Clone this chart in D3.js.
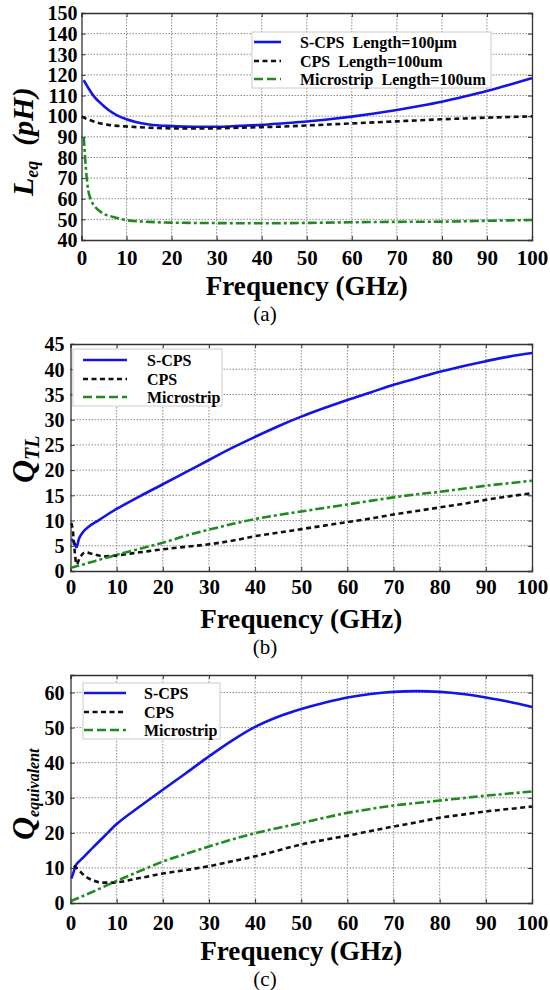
<!DOCTYPE html>
<html><head><meta charset="utf-8">
<script src="https://cdn.jsdelivr.net/npm/d3@7"></script>
<style>
body{margin:0;background:#fff;}
svg{display:block;}
text{font-family:"Liberation Serif","Times New Roman",serif;}
</style></head>
<body><svg id="chart" width="550" height="990"></svg>
<script>
// ---------- DATA ----------
const xTicks = [0,10,20,30,40,50,60,70,80,90,100];
// Panel (a) L_eq (pH)
const aScpsF = [0.5,1,2,3,4,5,6,8,10,12,15,20,25,30,35,40,45,50,55,60,65,70,75,80,85,90,95,100];
const aScpsL = [117.5,115.5,112,109,106.8,104.8,103.0,100.3,98.5,97.2,96.0,95.2,94.9,94.9,95.3,95.8,96.6,97.4,98.5,99.8,101.3,103.0,104.9,107.0,109.5,112.2,115.2,118.4];
const aCpsF = [0.1,1,2,4,6,8,10,15,20,25,30,35,40,45,50,55,60,65,70,75,80,85,90,95,100];
const aCpsL = [99.8,98.8,98.0,96.6,95.8,95.3,95.0,94.4,94.1,94.0,94.1,94.4,94.7,95.0,95.5,96.0,96.5,97.0,97.5,98.0,98.5,98.9,99.3,99.6,99.9];
const aMsF = [0.5,0.7,1,1.5,2,3,4,5,7,10,15,20,30,40,50,60,70,80,90,100];
const aMsL = [90,83,74,64,60,56.2,54,52.6,51.2,49.6,48.8,48.4,48.2,48.1,48.3,48.6,48.8,48.9,49.3,49.7];
const aYTicks = [40,50,60,70,80,90,100,110,120,130,140,150];
const aLegend = ["S-CPS  Length=100\u03bcm","CPS  Length=100um","Microstrip  Length=100um"];
// Panel (b) Q_TL
const bScpsF = [0.2,0.8,1.3,1.8,2.6,4,6,8,10,15,20,25,30,35,40,45,50,55,60,65,70,75,80,85,90,95,100];
const bScpsQ = [6.3,5.6,4.7,6.3,7.6,8.8,10.0,11.2,12.3,14.8,17.2,19.6,22.0,24.4,26.6,28.7,30.6,32.3,33.9,35.4,36.9,38.2,39.5,40.6,41.6,42.5,43.2];
const bCpsF = [0.2,0.5,0.9,1.3,2,3.2,5,7.4,10,15,20,25,30,35,40,45,50,55,60,65,70,75,80,85,90,95,100];
const bCpsQ = [9.5,8,4,1.3,2.6,3.7,3.3,2.9,3.1,3.7,4.3,4.8,5.3,6.0,6.9,7.6,8.3,9.0,9.7,10.4,11.2,11.9,12.6,13.3,14.1,14.8,15.4];
const bMsF = [0,5,8,10,15,20,25,30,35,40,45,50,55,60,65,70,75,80,85,90,95,100];
const bMsQ = [0.6,1.9,2.7,3.2,4.4,5.6,7.0,8.2,9.3,10.3,11.1,11.8,12.5,13.2,13.9,14.6,15.2,15.7,16.3,16.9,17.4,17.9];
const bYTicks = [0,5,10,15,20,25,30,35,40,45];
// Panel (c) Q_equivalent
const cScpsF = [0.2,0.6,1.1,2,3,5,7,10,15,20,25,30,35,40,45,50,55,60,65,70,75,80,85,90,95,100];
const cScpsQ = [7.0,8.5,10.6,12.0,13.3,16.0,18.6,22.5,27.5,32.3,37.0,41.8,46.3,50.2,53.1,55.3,57.1,58.6,59.6,60.2,60.4,60.2,59.6,58.6,57.4,55.9];
const cCpsF = [0.7,1.5,3,5,7,9,10,15,20,25,30,35,40,45,50,55,60,65,70,75,80,85,90,95,100];
const cCpsQ = [10.6,9.8,7.8,6.4,5.8,5.8,5.9,7.1,8.4,9.4,10.5,11.9,13.3,15.0,16.7,18.0,19.2,20.5,21.8,23.0,24.3,25.2,26.1,26.8,27.5];
const cMsF = [0,5,9.3,10,15,20,25,30,35,40,45,50,55,60,65,70,75,80,85,90,95,100];
const cMsQ = [0.5,3.3,5.9,6.3,9.1,11.8,14.0,16.1,18.1,19.9,21.4,22.8,24.3,25.7,26.8,27.8,28.5,29.2,29.9,30.6,31.2,31.8];
const cYTicks = [0,10,20,30,40,50,60];
const bcLegend = ["S-CPS","CPS","Microstrip"];
const xTitle = "Frequency (GHz)";

// ---------- STYLES ----------
const styles = [
  {color:"#1414e6", dash:null, legDash:null},
  {color:"#111", dash:"5,3.5", legDash:"5,3.5"},
  {color:"#1f8a1f", dash:"9,3,3,3", legDash:"9,4"}
];

const svg = d3.select("#chart");

function panel(cfg){
  const x = d3.scaleLinear().domain([0,100]).range([cfg.left,cfg.right]);
  const y = d3.scaleLinear().domain(cfg.yDomain).range([cfg.bottom,cfg.top]);
  const g = svg.append("g");
  // grid
  g.append("g").selectAll("line").data(xTicks.slice(1,-1)).join("line")
    .attr("x1",d=>x(d)).attr("x2",d=>x(d)).attr("y1",cfg.top).attr("y2",cfg.bottom)
    .attr("stroke","#8a8a8a").attr("stroke-width",1).attr("stroke-dasharray","1.5,1.5");
  g.append("g").selectAll("line").data(cfg.yTicks.filter(v=>v>cfg.yDomain[0]&&v<cfg.yDomain[1])).join("line")
    .attr("x1",cfg.left).attr("x2",cfg.right).attr("y1",d=>y(d)).attr("y2",d=>y(d))
    .attr("stroke","#8a8a8a").attr("stroke-width",1).attr("stroke-dasharray","1.5,1.5");
  // axes with inward ticks
  const ax = g.append("g").attr("transform",`translate(0,${cfg.bottom})`)
    .call(d3.axisBottom(x).tickValues(xTicks).tickSize(-4).tickPadding(cfg.xPad));
  const axT = g.append("g").attr("transform",`translate(0,${cfg.top})`)
    .call(d3.axisTop(x).tickValues(xTicks).tickSize(-4).tickFormat(""));
  const ay = g.append("g").attr("transform",`translate(${cfg.left},0)`)
    .call(d3.axisLeft(y).tickValues(cfg.yTicks).tickSize(-4).tickPadding(cfg.yPad));
  const ayR = g.append("g").attr("transform",`translate(${cfg.right},0)`)
    .call(d3.axisRight(y).tickValues(cfg.yTicks).tickSize(-4).tickFormat(""));
  [ax,axT,ay,ayR].forEach(a=>{
    a.select(".domain").attr("stroke","#333").attr("stroke-width",1.3);
    a.selectAll(".tick line").attr("stroke","#333");
  });
  ax.selectAll("text").attr("font-size",21).attr("font-weight","bold").attr("fill","#000")
    .attr("font-family","Liberation Serif");
  ay.selectAll("text").attr("font-size",20).attr("font-weight","bold").attr("fill","#000")
    .attr("font-family","Liberation Serif").attr("dy","0.34em");
  // series
  const line = d3.line().x(d=>x(d[0])).y(d=>y(d[1])).curve(d3.curveMonotoneX);
  cfg.series.forEach((s,i)=>{
    const pts = s[0].map((f,k)=>[f,s[1][k]]);
    g.append("path").datum(pts).attr("d",line).attr("fill","none")
      .attr("stroke",styles[i].color).attr("stroke-width",2.6)
      .attr("stroke-dasharray",styles[i].dash);
  });
  // legend
  const L = cfg.legend;
  g.append("rect").attr("x",L.x0).attr("y",L.y0).attr("width",L.x1-L.x0).attr("height",L.y1-L.y0)
    .attr("fill","#fff").attr("stroke","#ccc").attr("stroke-width",1);
  cfg.legendLabels.forEach((t,i)=>{
    const yy = L.rows[i];
    g.append("line").attr("x1",L.lx0).attr("x2",L.lx1).attr("y1",yy).attr("y2",yy)
      .attr("stroke",styles[i].color).attr("stroke-width",2.6).attr("stroke-dasharray",styles[i].legDash);
    g.append("text").attr("x",L.tx).attr("y",yy+5.5).attr("font-size",16).attr("font-weight","bold")
      .style("white-space","pre").text(t);
  });
  // x title
  g.append("text").attr("x",(cfg.left+cfg.right)/2).attr("y",cfg.titleY)
    .attr("text-anchor","middle").attr("font-size",28).attr("font-weight","bold")
    .attr("textLength",202).attr("lengthAdjust","spacingAndGlyphs").text(xTitle);
  // caption
  g.append("text").attr("x",265).attr("y",cfg.capY).attr("text-anchor","middle")
    .attr("font-size",21).text(cfg.caption);
  // y label
  const yl = g.append("text").attr("transform",`translate(${cfg.ylX},${cfg.ylY}) rotate(-90)`)
    .attr("font-weight","bold").attr("font-style","italic").attr("font-size",cfg.ylSize);
  yl.append("tspan").text(cfg.ylMain);
  yl.append("tspan").attr("font-size",cfg.ylSubSize).attr("dy",cfg.ylSubDy).text(cfg.ylSub);
  if(cfg.ylTail){ yl.append("tspan").attr("dy",-cfg.ylSubDy).style("white-space","pre").text(cfg.ylTail); }
}

panel({left:81.5,right:532,top:13,bottom:240,yDomain:[40,150],yTicks:aYTicks,xPad:10,yPad:4,
  series:[[aScpsF,aScpsL],[aCpsF,aCpsL],[aMsF,aMsL]],
  legend:{x0:252,x1:491,y0:32,y1:88,rows:[42,61,79],lx0:254,lx1:281,tx:300},
  legendLabels:aLegend, titleY:295, capY:321, caption:"(a)",
  ylX:33,ylY:196,ylSize:30,ylMain:"L",ylSub:"eq",ylSubSize:18,ylSubDy:5,ylTail:"  (pH)"});

panel({left:70.5,right:532,top:344,bottom:571,yDomain:[0,45],yTicks:bYTicks,xPad:8,yPad:6,
  series:[[bScpsF,bScpsQ],[bCpsF,bCpsQ],[bMsF,bMsQ]],
  legend:{x0:73,x1:222,y0:349,y1:406,rows:[360,379,397],lx0:83,lx1:127,tx:147},
  legendLabels:bcLegend, titleY:628, capY:654, caption:"(b)",
  ylX:34,ylY:483,ylSize:32,ylMain:"Q",ylSub:"TL",ylSubSize:20,ylSubDy:5});

panel({left:70.5,right:532,top:675,bottom:903,yDomain:[0,65],yTicks:cYTicks,xPad:12,yPad:6,
  series:[[cScpsF,cScpsQ],[cCpsF,cCpsQ],[cMsF,cMsQ]],
  legend:{x0:83,x1:220,y0:683,y1:739,rows:[693,712,730],lx0:84,lx1:126,tx:144},
  legendLabels:bcLegend, titleY:960, capY:986, caption:"(c)",
  ylX:34,ylY:840,ylSize:32,ylMain:"Q",ylSub:"equivalent",ylSubSize:16,ylSubDy:5});
</script></body></html>
